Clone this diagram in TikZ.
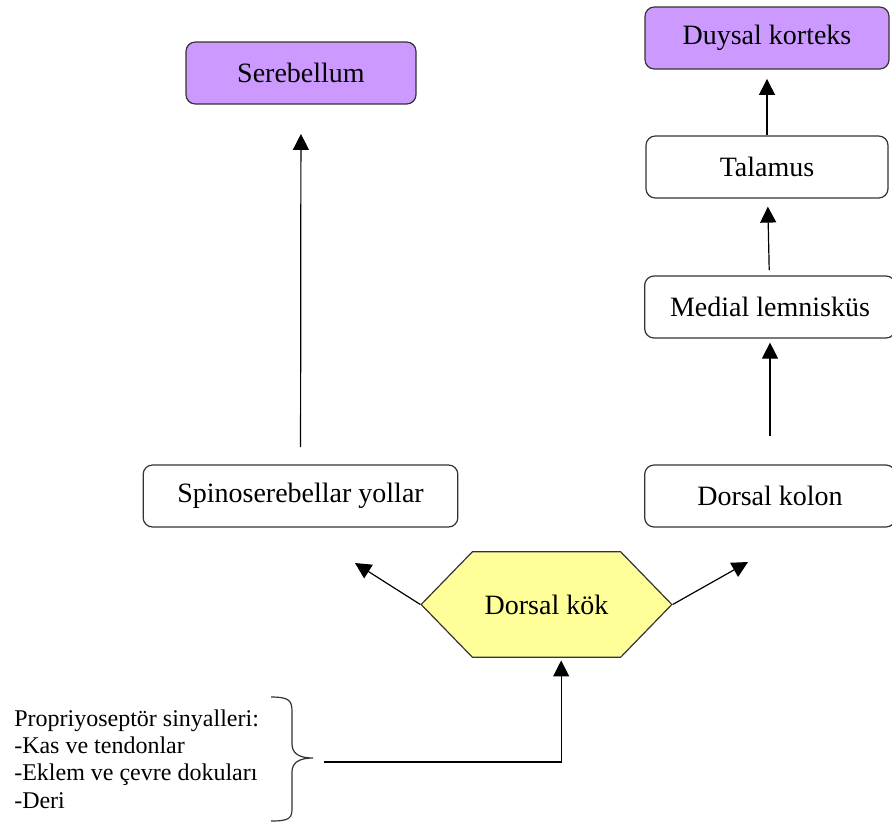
\documentclass[tikz,border=0pt]{standalone}
\usepackage{fontspec}
\setmainfont{Liberation Serif}
\usetikzlibrary{arrows.meta,shapes.symbols}
\definecolor{lilac}{HTML}{CC99FF}
\definecolor{paleyellow}{HTML}{FFFF99}

\begin{document}
\begin{tikzpicture}[x=0.75pt,y=-0.75pt]
            \tikzstyle{box} = [draw=black!80,line width=0.9pt,rounded corners=7pt,minimum height=46.5pt,font=\rmfamily\fontsize{21}{25}\selectfont]
            \tikzstyle{target} = [box,fill=lilac]
            \tikzstyle{edge} = [-{Triangle[length=12pt,width=12pt]},line width=0.9pt]

            \useasboundingbox (0,0) rectangle (892,822);

            \node[target,minimum width=172.5pt] (cereb) at (301,73) {Serebellum};
            \node[target,minimum width=183pt] (cortex) at (767,38) {Duysal korteks};
            \node[box,minimum width=181.5pt] (thal) at (767,167) {Talamus};
            \node[box,minimum width=188pt] (lemn) at (770,307) {Medial lemnisküs};
            \node[box,minimum width=236pt] (spino) at (300.5,496) {Spinoserebellar yollar};
            \node[box,minimum width=188pt] (column) at (770,496) {Dorsal kolon};
            \node[draw=black!80,line width=0.9pt,fill=paleyellow,signal,signal to=west and east,
                  signal pointer angle=91.7,minimum width=188pt,minimum height=79pt,
                  font=\rmfamily\fontsize{21}{25}\selectfont] (root) at (546.5,604.5) {Dorsal kök};

            \node[anchor=west,align=left,inner sep=0pt,font=\rmfamily\fontsize{18}{20.6}\selectfont] (sources) at (14,759)
                {Propriyoseptör sinyalleri:\\-Kas ve tendonlar\\-Eklem ve çevre dokuları\\-Deri};

            % brace
            \draw[line width=0.9pt,black!80] (271,697) .. controls (290,697) and (292,701) .. (292,712) -- (292,744)
                .. controls (292,754) and (300,758) .. (313,758)
                .. controls (300,758) and (292,762) .. (292,772) -- (292,808)
                .. controls (292,818) and (290,821) .. (271,821);
            \coordinate (bracetip) at (324,762);
            \coordinate (tl) at (355,563);
            \coordinate (tr) at (748,562);

            \draw[edge,shorten <=13pt,shorten >=22pt] (spino) -- (cereb);
            \draw[edge,shorten <=21pt,shorten >=3pt] (column) -- (lemn);
            \draw[edge,shorten <=4pt,shorten >=6pt] (lemn) -- (thal);
            \draw[edge,shorten >=7pt] (thal) -- (cortex);
            \draw[edge] (root.west) -- (tl);
            \draw[edge] (root.east) -- (tr);
            \draw[edge,shorten >=2pt] (bracetip) -| ([xshift=11pt]root.south);
        \end{tikzpicture}
\end{document}
